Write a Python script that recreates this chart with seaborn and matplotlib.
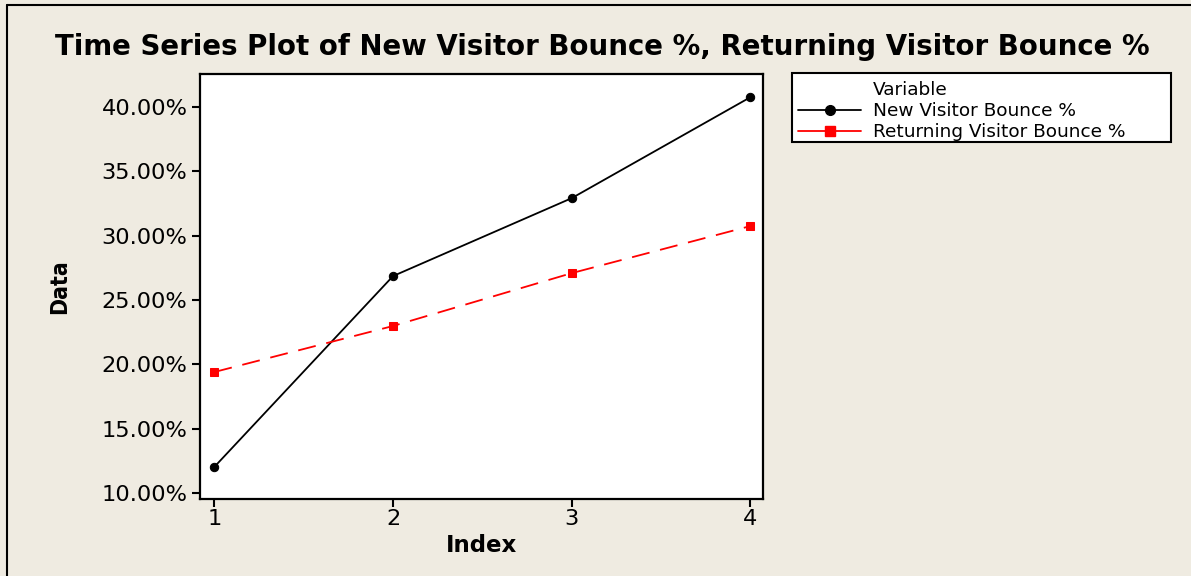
import matplotlib
matplotlib.use("Agg")
import matplotlib.pyplot as plt
from matplotlib.lines import Line2D
from matplotlib.patches import Rectangle
from matplotlib.ticker import FuncFormatter
import seaborn as sns
import pandas as pd

index = [1, 2, 3, 4]
new_visitor = [12.02, 26.86, 32.92, 40.77]
returning_visitor = [19.40, 22.98, 27.09, 30.75]
series_names = ["New Visitor Bounce %", "Returning Visitor Bounce %"]
y_ticks = [10, 15, 20, 25, 30, 35, 40]

df = pd.DataFrame({
    "Index": index * 2,
    "Data": new_visitor + returning_visitor,
    "Variable": [series_names[0]] * 4 + [series_names[1]] * 4,
})

sns.set_theme(style="white")
plt.rcParams["font.family"] = ["DejaVu Sans"]
plt.rcParams["text.color"] = "black"
plt.rcParams["axes.labelcolor"] = "black"
plt.rcParams["xtick.color"] = "black"
plt.rcParams["ytick.color"] = "black"

W, H = 1191, 576
bg = "#EFEBE1"
fig = plt.figure(figsize=(W / 100, H / 100), dpi=100, facecolor=bg)
ax = fig.add_axes([200 / W, 1 - 499 / H, (763 - 200) / W, (499 - 74) / H])
ax.set_facecolor("white")

sns.lineplot(data=df[df["Variable"] == series_names[0]], x="Index", y="Data",
             color="black", marker="o", markersize=6, linewidth=1.3,
             markeredgecolor="black", ax=ax, legend=False)
sns.lineplot(data=df[df["Variable"] == series_names[1]], x="Index", y="Data",
             color="red", marker="s", markersize=6, linewidth=1.3,
             markeredgecolor="red", ax=ax, legend=False, dashes=False)
ax.lines[1].set_dashes([10, 6])

ax.set_xlim(0.92, 4.07)
ax.set_ylim(9.53, 42.57)
ax.set_xticks(index)
ax.set_yticks(y_ticks)
ax.yaxis.set_major_formatter(FuncFormatter(lambda v, p: f"{v:.2f}%"))
ax.tick_params(axis="both", which="both", direction="out", length=6, width=1.5,
               color="black", labelcolor="black", labelsize=16.2,
               left=True, bottom=True, pad=3)
ax.tick_params(axis="x", pad=1)
for s in ax.spines.values():
    s.set_color("black")
    s.set_linewidth(1.6)

ax.set_xlabel("Index", fontsize=16.5, fontweight="bold", labelpad=4, color="black")
ax.set_ylabel("Data", fontsize=16.5, fontweight="bold", labelpad=22,
              fontstretch="condensed", color="black")

fig.text(602 / W, 1 - 47 / H,
         "Time Series Plot of New Visitor Bounce %, Returning Visitor Bounce %",
         ha="center", va="center", fontsize=19.9, fontweight="bold", color="black")

handles = [
    Line2D([], [], linestyle="none", marker=None),
    Line2D([], [], color="black", marker="o", markersize=7, linewidth=1.3),
    Line2D([], [], color="red", marker="s", markersize=7, linewidth=1.3),
]
labels = ["Variable"] + series_names

fig.add_artist(Rectangle((792 / W, 1 - 142 / H), (1171 - 792) / W, (142 - 73) / H,
                         transform=fig.transFigure, facecolor="white",
                         edgecolor="black", linewidth=1.5, zorder=1))
leg = fig.legend(handles, labels, loc="upper left",
                 bbox_to_anchor=(792 / W, 1 - 75 / H),
                 frameon=False, fontsize=13.3, handlelength=3.4,
                 handletextpad=0.65, labelspacing=0.15, borderpad=0.35,
                 borderaxespad=0)
leg.set_zorder(2)
for t in leg.get_texts():
    t.set_color("black")

fig.add_artist(Line2D([7 / W, 7 / W], [0, 1 - 5 / H], color="black",
                      linewidth=1.5, transform=fig.transFigure))
fig.add_artist(Line2D([7 / W, 1], [1 - 5 / H, 1 - 5 / H], color="black",
                      linewidth=1.5, transform=fig.transFigure))

fig.savefig("out.png", dpi=100, facecolor=bg)
